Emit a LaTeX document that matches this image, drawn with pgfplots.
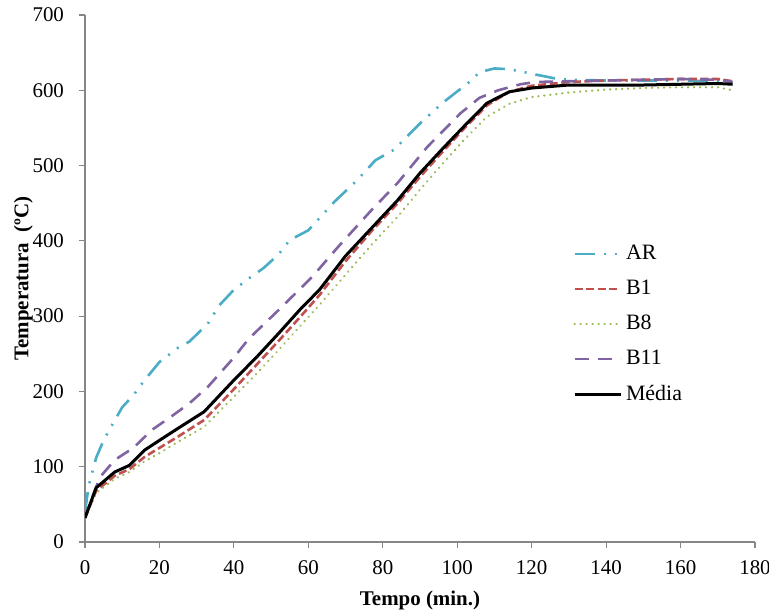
\documentclass[border=0pt]{standalone}
\usepackage{fontspec}
\setmainfont{Liberation Serif}
\usepackage{pgfplots}
\pgfplotsset{compat=1.18}

\definecolor{cAR}{HTML}{4BACC6}
\definecolor{cB1}{HTML}{C0504D}
\definecolor{cB8}{HTML}{9BBB59}
\definecolor{cB11}{HTML}{8064A2}
\definecolor{axgray}{HTML}{868686}

\begin{document}
\begin{tikzpicture}
\begin{axis}[
    scale only axis,
    width=335bp, height=263.5bp,
    xmin=0, xmax=180, ymin=0, ymax=700,
    xtick={0,20,...,180},
    ytick={0,100,...,700},
    axis x line=bottom, axis y line=left,
    axis line style={-, axgray, line width=0.6bp},
    tick style={axgray, line width=0.6bp},
    tick align=outside, major tick length=3bp,
    every tick label/.append style={font=\fontsize{10.5}{12}\selectfont},
    xticklabel style={yshift=-3bp},
    yticklabel style={xshift=-4bp},
    /pgf/number format/assume math mode=true,
    xlabel={\textbf{Tempo (min.)}},
    ylabel={\textbf{Temperatura\ \ (ºC)}},
    label style={font=\fontsize{10.5}{12}\selectfont},
    xlabel style={yshift=-1bp},
    ylabel style={yshift=-7bp},
    legend style={at={(axis cs:131,400)}, anchor=north west, draw=none, fill=none,
        font=\fontsize{11}{13}\selectfont, row sep=4.8bp, inner sep=0pt},
    legend cell align=left,
    legend image code/.code={\draw[#1] plot coordinates {(0bp,0bp)(23bp,0bp)};},
]
\coordinate (o) at (rel axis cs:0,0);
\coordinate (e) at (rel axis cs:1,1);

\addplot[cAR, line width=1.3bp, dash pattern=on 10bp off 4.5bp on 1bp off 4.5bp on 1bp off 4.5bp]
coordinates {(0,40)(1,75)(3,112)(5,135)(7,153)(10,179)(13,195)(16,215)(20,239)(25,258)
(28,266)(33,290)(36,314)(40,335)(44,350)(48,364)(52,382)(55,401)(60,414)(67,452)(73,480)
(78,507)(83,521)(90,556)(96,583)(103,610)(106,624)(110,629)(114,628)(118,624)(122,620)
(126,616)(130,614)(140,613)(150,613)(160,613)(170,612)(174,610)};
\addlegendentry{AR}

\addplot[cB1, line width=1.3bp, dash pattern=on 4bp off 1.8bp]
coordinates {(0,32)(3,68)(8,88)(12,97)(16,113)(20,125)(25,140)(32,162)(40,203)(46,235)
(52,267)(58,300)(63,328)(70,373)(77,413)(84,450)(90,485)(96,518)(102,550)(108,580)
(114,598)(120,606)(130,611)(140,613)(150,614)(160,615)(170,615)(174,612)};
\addlegendentry{B1}

\addplot[cB8, line width=1.2bp, line cap=round, dash pattern=on 0.1bp off 2.9bp]
coordinates {(0,32)(3,65)(8,84)(12,93)(16,107)(20,118)(25,133)(32,153)(40,193)(46,223)
(52,255)(58,288)(63,315)(70,355)(77,395)(84,432)(90,468)(96,502)(102,535)(108,565)
(114,582)(120,591)(130,597)(140,601)(150,603)(160,604)(170,604)(174,600)};
\addlegendentry{B8}

\addplot[cB11, line width=1.3bp, dash pattern=on 7bp off 4.5bp]
coordinates {(0,32)(2,60)(4,86)(8,109)(13,125)(18,149)(23,166)(28,184)(33,206)(40,245)
(44,270)(52,308)(61,352)(68,392)(77,441)(84,477)(92,525)(101,570)(106,590)(111,600)
(117,608)(121,611)(130,612)(140,613)(150,614)(160,615)(170,614)(174,611)};
\addlegendentry{B11}

\addplot[black, line width=1.5bp]
coordinates {(0,32)(3,72)(8,93)(12,102)(16,122)(20,135)(25,151)(32,173)(40,215)(46,245)
(52,277)(58,310)(63,335)(70,380)(77,417)(84,454)(90,490)(96,522)(102,553)(108,583)
(114,598)(120,603)(130,607)(140,607)(150,607)(160,608)(170,609)(174,608)};
\addlegendentry{Média}
\end{axis}
\pgfresetboundingbox
\path ([xshift=-42.5bp,yshift=-34bp]o) rectangle ([xshift=7bp,yshift=7.5bp]e);
\end{tikzpicture}
\end{document}
